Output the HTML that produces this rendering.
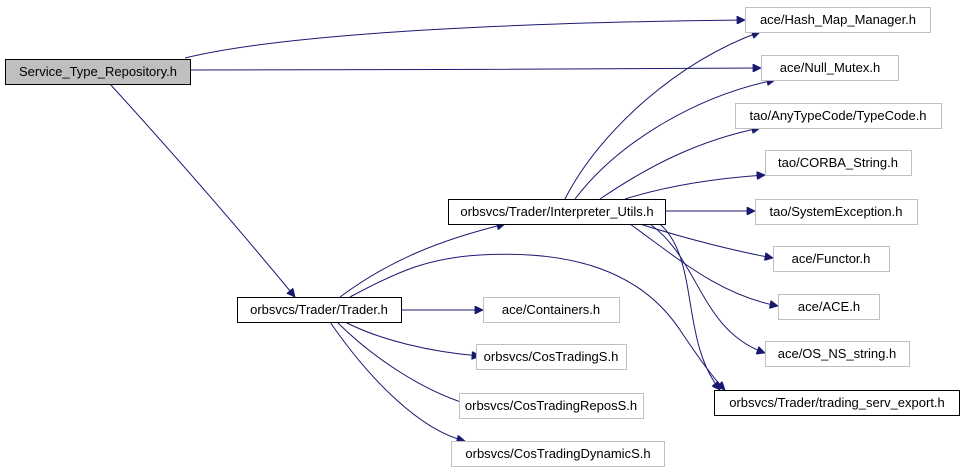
<!DOCTYPE html>
<html><head><meta charset="utf-8"><style>
html,body{margin:0;padding:0;background:#fff;}
svg{display:block;}
text{font-family:"Liberation Sans",sans-serif;font-size:13px;fill:#000;}
.g{fill:#fff;stroke:#bfbfbf;stroke-width:1;}
.b{fill:#fff;stroke:#000;stroke-width:1;}
.e{fill:none;stroke:#191970;stroke-width:1;}
</style></head><body>
<svg width="963" height="471" viewBox="0 0 963 471" xmlns="http://www.w3.org/2000/svg">
<defs><marker id="a" viewBox="0 0 10 10" refX="10" refY="5" markerWidth="10" markerHeight="8" orient="auto" markerUnits="userSpaceOnUse"><path d="M0,0 L10,5 L0,10 z" fill="#191970" stroke="#191970"/></marker></defs>
<g class="e" marker-end="url(#a)">
<path d="M185,58 C300,30 560,22 745,20"/>
<path d="M190,70 C360,70 620,69 761,68"/>
<path d="M110,84 C170,150 240,230 295,297"/>
<path d="M340,297 C390,260 440,240 505,224"/>
<path d="M350,297 C400,270 430,258 480,255 C570,250 640,270 680,330 C700,360 715,380 725,390"/>
<path d="M401,310 L483,310"/>
<path d="M345,322 C380,340 430,352 480,356"/>
<path d="M337,322 C370,355 420,390 470,405"/>
<path d="M330,322 C370,380 420,430 465,441"/>
<path d="M565,199 C600,130 680,60 760,32"/>
<path d="M575,199 C620,140 700,95 775,80"/>
<path d="M600,199 C650,165 700,140 760,128"/>
<path d="M625,199 C670,185 720,178 765,175"/>
<path d="M665,211 L755,211"/>
<path d="M640,224 C690,240 740,252 773,258"/>
<path d="M630,224 C680,260 720,295 778,306"/>
<path d="M650,224 C700,260 700,330 765,353"/>
<path d="M660,224 C700,260 680,340 720,390"/>
</g>
<rect x="5.5" y="59.5" width="185" height="25" fill="#bfbfbf" stroke="#000"/><text x="98" y="76" text-anchor="middle">Service_Type_Repository.h</text>
<rect class="g" x="745.5" y="7.5" width="185" height="25"/><text x="838" y="24" text-anchor="middle">ace/Hash_Map_Manager.h</text>
<rect class="g" x="761.5" y="55.5" width="137" height="25"/><text x="830" y="72" text-anchor="middle">ace/Null_Mutex.h</text>
<rect class="g" x="735.5" y="103.5" width="206" height="25"/><text x="838" y="120" text-anchor="middle">tao/AnyTypeCode/TypeCode.h</text>
<rect class="g" x="765.5" y="150.5" width="146" height="25"/><text x="838" y="167" text-anchor="middle">tao/CORBA_String.h</text>
<rect class="g" x="755.5" y="199.5" width="162" height="25"/><text x="836" y="216" text-anchor="middle">tao/SystemException.h</text>
<rect class="g" x="773.5" y="246.5" width="116" height="25"/><text x="831" y="263" text-anchor="middle">ace/Functor.h</text>
<rect class="g" x="778.5" y="294.5" width="101" height="25"/><text x="829" y="311" text-anchor="middle">ace/ACE.h</text>
<rect class="g" x="765.5" y="341.5" width="144" height="25"/><text x="837" y="358" text-anchor="middle">ace/OS_NS_string.h</text>
<rect class="b" x="714.5" y="390.5" width="245" height="25"/><text x="837" y="407" text-anchor="middle">orbsvcs/Trader/trading_serv_export.h</text>
<rect class="b" x="448.5" y="199.5" width="217" height="25"/><text x="557" y="216" text-anchor="middle">orbsvcs/Trader/Interpreter_Utils.h</text>
<rect class="b" x="237.5" y="297.5" width="164" height="25"/><text x="319" y="314" text-anchor="middle">orbsvcs/Trader/Trader.h</text>
<rect class="g" x="483.5" y="297.5" width="136" height="25"/><text x="551" y="314" text-anchor="middle">ace/Containers.h</text>
<rect class="g" x="476.5" y="344.5" width="150" height="25"/><text x="551" y="361" text-anchor="middle">orbsvcs/CosTradingS.h</text>
<rect class="g" x="459.5" y="393.5" width="184" height="25"/><text x="551" y="410" text-anchor="middle">orbsvcs/CosTradingReposS.h</text>
<rect class="g" x="451.5" y="441.5" width="213" height="25"/><text x="558" y="458" text-anchor="middle">orbsvcs/CosTradingDynamicS.h</text>
</svg>
</body></html>
